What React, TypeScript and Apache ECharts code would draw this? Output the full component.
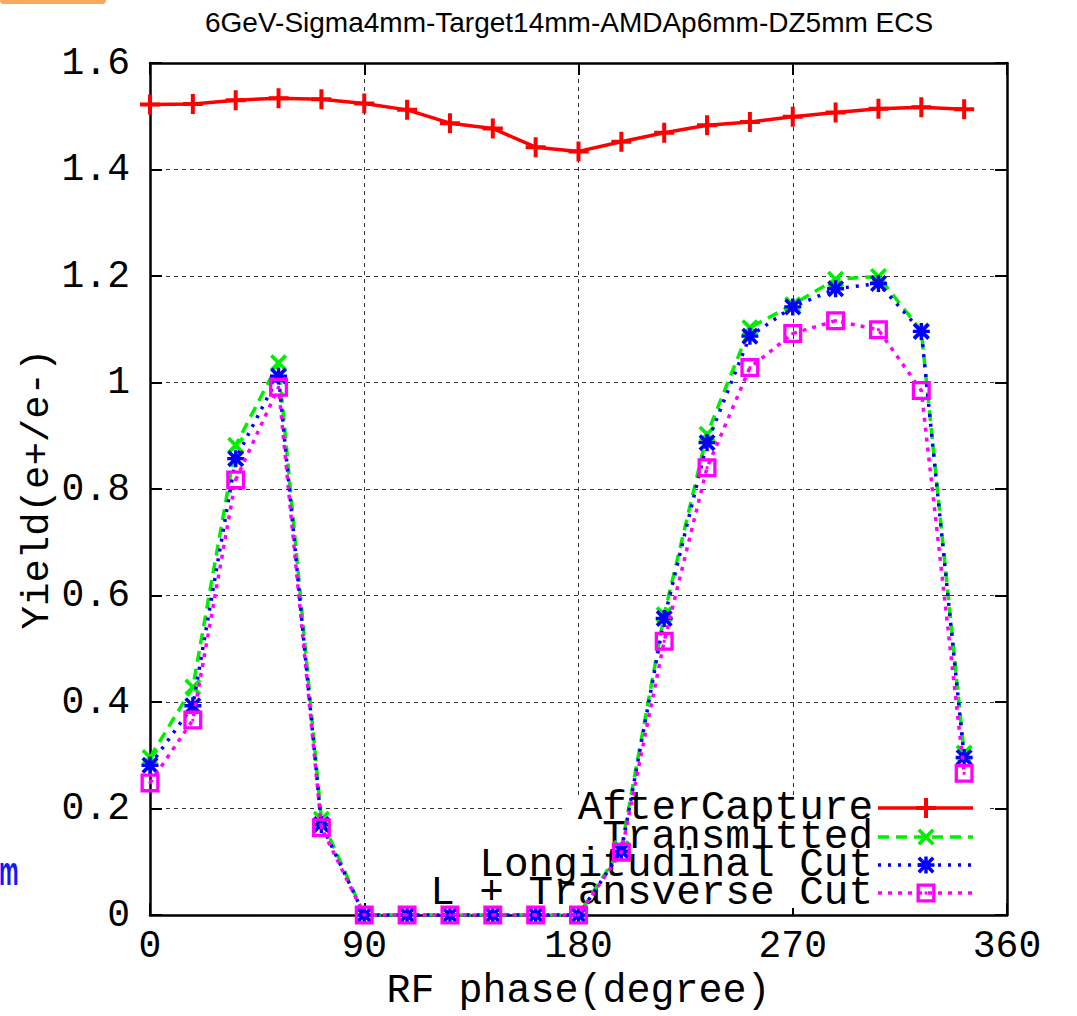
import React, { useEffect, useRef } from "react";
import * as echarts from "echarts";

const chartTitle = "6GeV-Sigma4mm-Target14mm-AMDAp6mm-DZ5mm ECS";
const xAxisName = "RF phase(degree)";
const yAxisName = "Yield(e+/e-)";
const seriesNames = ["AfterCapture", "Transmitted", "Longitudinal Cut", "L + Transverse Cut"];
const seriesColors = ["#ff0000", "#00ee00", "#0000ff", "#ff00ff"];

const phases = [0, 18, 36, 54, 72, 90, 108, 126, 144, 162, 180, 198, 216, 234, 252, 270, 288, 306, 324, 342];
const afterCapture = [1.522, 1.523, 1.53, 1.534, 1.532, 1.524, 1.512, 1.487, 1.477, 1.442, 1.434, 1.452, 1.469, 1.483, 1.489, 1.499, 1.507, 1.514, 1.517, 1.513];
const transmitted = [0.296, 0.428, 0.882, 1.037, 0.18, 0, 0, 0, 0, 0, 0, 0.125, 0.564, 0.903, 1.103, 1.146, 1.194, 1.199, 1.097, 0.304];
const longitudinalCut = [0.281, 0.393, 0.857, 1.012, 0.17, 0, 0, 0, 0, 0, 0, 0.12, 0.557, 0.887, 1.087, 1.142, 1.176, 1.186, 1.096, 0.296];
const lTransverseCut = [0.248, 0.366, 0.817, 0.991, 0.164, 0, 0, 0, 0, 0, 0, 0.118, 0.514, 0.84, 1.028, 1.092, 1.116, 1.099, 0.985, 0.266];

const PLUS_D = "M8,0H12V8H20V12H12V20H8V12H0V8H8Z";
const CROSS_D = "M0,3L3,0L10,7L17,0L20,3L13,10L20,17L17,20L10,13L3,20L0,17L7,10Z";
const STAR_D = CROSS_D + " M8,0H12V20H8Z M0,8H20V12H0Z";
const SQUARE_D = "M0,0H20V20H0Z M3.5,3.5V16.5H16.5V3.5Z M8.5,8.5H11.5V11.5H8.5Z";
const symbolPaths = [PLUS_D, CROSS_D, STAR_D, SQUARE_D];
const symbolSizes = [20, 17, 17, 19];
const shapeNames = ["mkPlus", "mkCross", "mkStar", "mkSquare"];
const lineDashes: any[] = ["solid", [11, 7], [3, 7], [4, 6]];

shapeNames.forEach((n, i) => {
  echarts.graphic.registerShape(n, echarts.graphic.extendPath(symbolPaths[i], {}));
});

const MONO = '"Liberation Mono", "Courier New", monospace';

export default function App() {
  const ref = useRef<HTMLDivElement>(null);
  useEffect(() => {
    if (!ref.current) return;
    const chart = echarts.init(ref.current, undefined, { renderer: "svg" });
    const allData = [afterCapture, transmitted, longitudinalCut, lTransverseCut];
    const series = allData.map((vals, i) => ({
      name: seriesNames[i],
      type: "line",
      xAxisIndex: 0,
      yAxisIndex: 0,
      data: phases.map((p, k) => [p, vals[k]]),
      symbol: "path://" + symbolPaths[i],
      symbolSize: symbolSizes[i],
      showAllSymbol: true,
      color: seriesColors[i],
      itemStyle: { color: seriesColors[i] },
      lineStyle: { color: seriesColors[i], width: 3.5, type: lineDashes[i] },
      emphasis: { disabled: true },
      z: 2 + i,
    }));

    const rowsY = [808, 837, 865, 893];
    const legendEls: any[] = [
      { type: "rect", shape: { x: 562, y: 795, width: 426, height: 113 }, style: { fill: "#fff" }, z: 1 },
    ];
    seriesNames.forEach((n, i) => {
      const cy = rowsY[i];
      legendEls.push({
        type: "text",
        x: 873,
        y: cy,
        z: 1,
        style: {
          text: n,
          fontSize: 41,
          lineHeight: 28,
          fontFamily: MONO,
          fill: "#000",
          align: "right",
          verticalAlign: "middle",
          textAlign: "right",
          textVerticalAlign: "middle",
        },
      });
      const dash = lineDashes[i] === "solid" ? null : lineDashes[i];
      legendEls.push({
        type: "line",
        z: 5,
        shape: { x1: 878, y1: cy, x2: 973, y2: cy },
        style: { stroke: seriesColors[i], lineWidth: 3.5, lineDash: dash },
      });
      const s = symbolSizes[i] / 20;
      legendEls.push({
        type: shapeNames[i],
        z: 6,
        x: 926 - 10 * s,
        y: cy - 10 * s,
        scaleX: s,
        scaleY: s,
        style: { fill: seriesColors[i] },
      });
    });

    const option: any = {
      animation: false,
      backgroundColor: "#fff",
      title: {
        text: chartTitle,
        left: 205,
        top: 8,
        padding: 0,
        textStyle: { fontFamily: '"Liberation Sans", Arial, sans-serif', fontSize: 28, fontWeight: "normal", color: "#000" },
      },
      grid: { left: 150, right: 70, top: 63, bottom: 94, containLabel: false },
      xAxis: [
        {
          type: "value",
          min: 0,
          max: 360,
          interval: 90,
          position: "bottom",
          name: xAxisName,
          nameLocation: "middle",
          nameGap: 56,
          nameMoveOverlap: false,
          nameTextStyle: { fontFamily: MONO, fontSize: 40, color: "#000" },
          axisLine: { show: true, onZero: false, lineStyle: { color: "#000", width: 2.5 } },
          axisTick: { show: true, inside: true, length: 12, lineStyle: { color: "#000", width: 2 } },
          axisLabel: { fontFamily: MONO, fontSize: 38, color: "#000", margin: 12 },
          splitLine: { show: true, lineStyle: { color: "#000", width: 1, type: [4, 4], opacity: 0.8 } },
        },
        {
          type: "value",
          min: 0,
          max: 360,
          interval: 90,
          position: "top",
          axisLine: { show: true, onZero: false, lineStyle: { color: "#000", width: 2.5 } },
          axisTick: { show: true, inside: true, length: 12, lineStyle: { color: "#000", width: 2 } },
          axisLabel: { show: false },
          splitLine: { show: false },
        },
      ],
      yAxis: [
        {
          type: "value",
          min: 0,
          max: 1.6,
          interval: 0.2,
          position: "left",
          name: yAxisName,
          nameLocation: "middle",
          nameGap: 93,
          nameMoveOverlap: false,
          nameTextStyle: { fontFamily: MONO, fontSize: 39, color: "#000" },
          axisLine: { show: true, onZero: false, lineStyle: { color: "#000", width: 2.5 } },
          axisTick: { show: true, inside: true, length: 12, lineStyle: { color: "#000", width: 2 } },
          axisLabel: { fontFamily: MONO, fontSize: 38, color: "#000", margin: 20 },
          splitLine: { show: true, lineStyle: { color: "#000", width: 1, type: [4, 4], opacity: 0.8 } },
        },
        {
          type: "value",
          min: 0,
          max: 1.6,
          interval: 0.2,
          position: "right",
          axisLine: { show: true, onZero: false, lineStyle: { color: "#000", width: 2.5 } },
          axisTick: { show: true, inside: true, length: 12, lineStyle: { color: "#000", width: 2 } },
          axisLabel: { show: false },
          splitLine: { show: false },
        },
      ],
      graphic: [
        { type: "rect", shape: { x: 0, y: -8, width: 106, height: 12, r: 4 }, style: { fill: "#f9a95b" } },
        {
          type: "text",
          x: -1,
          y: 871,
          scaleX: 0.55,
          style: {
            text: "m",
            fontSize: 40,
            fontWeight: "bold",
            fontFamily: '"Liberation Sans", Arial, sans-serif',
            fill: "#1515ff",
            verticalAlign: "middle",
            textVerticalAlign: "middle",
          },
        },
        ...legendEls,
      ],
      series,
    };
    chart.setOption(option);
    return () => chart.dispose();
  }, []);
  return <div ref={ref} style={{ position: "fixed", left: 0, top: 0, width: 1077, height: 1016, background: "#fff" }} />;
}
